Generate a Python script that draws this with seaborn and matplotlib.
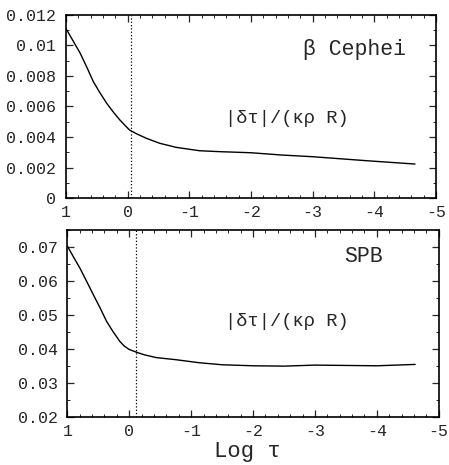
import matplotlib
matplotlib.use("Agg")
import matplotlib.pyplot as plt
import seaborn as sns
import pandas as pd
from matplotlib.ticker import MultipleLocator

# ---- data ----
bc_logtau = [1.0, 0.9, 0.77, 0.66, 0.557, 0.45, 0.34, 0.23, 0.125, 0.04, -0.03, -0.15,
             -0.307, -0.52, -0.79, -1.17, -1.5, -2.0, -2.5, -3.0, -3.87, -4.66]
bc_value = [0.0111, 0.0104, 0.00949, 0.00855, 0.00763, 0.00690, 0.00621, 0.00562,
            0.00511, 0.00475, 0.00446, 0.00420, 0.00391, 0.00359, 0.00332, 0.0031,
            0.00304, 0.00297, 0.00282, 0.00271, 0.00245, 0.00223]

spb_logtau = [1.0, 0.9, 0.796, 0.69, 0.58, 0.47, 0.367, 0.26, 0.153, 0.08, 0.0, -0.115,
              -0.25, -0.44, -0.75, -1.13, -1.5, -2.0, -2.5, -3.0, -3.5, -4.0, -4.62]
spb_value = [0.0703, 0.0671, 0.0638, 0.0600, 0.0560, 0.0521, 0.0482, 0.0451, 0.0423,
             0.0409, 0.0399, 0.0391, 0.0383, 0.0375, 0.0369, 0.0360, 0.0354, 0.0351,
             0.0350, 0.0353, 0.0352, 0.0351, 0.0355]

bc_vline = -0.05
spb_vline = -0.116

x_ticks = [1, 0, -1, -2, -3, -4, -5]
x_labels = ["1", "0", "-1", "-2", "-3", "-4", "-5"]
bc_yticks = [0, 0.002, 0.004, 0.006, 0.008, 0.01, 0.012]
bc_ylabels = ["0", "0.002", "0.004", "0.006", "0.008", "0.01", "0.012"]
spb_yticks = [0.02, 0.03, 0.04, 0.05, 0.06, 0.07]
spb_ylabels = ["0.02", "0.03", "0.04", "0.05", "0.06", "0.07"]

title_bc = "β Cephei"
title_spb = "SPB"
quantity = "|δτ|/(κρ R)"
xlabel = "Log τ"

# ---- style ----
sns.set_style("ticks")
plt.rcParams["font.family"] = ["Liberation Mono", "DejaVu Sans Mono", "DejaVu Sans"]

fig = plt.figure(figsize=(4.49, 4.65), dpi=100)
ax1 = fig.add_axes([0.147, 0.574, 0.824, 0.394])
ax2 = fig.add_axes([0.150, 0.103, 0.827, 0.402])

df_bc = pd.DataFrame({"logtau": bc_logtau, "value": bc_value})
df_spb = pd.DataFrame({"logtau": spb_logtau, "value": spb_value})

sns.lineplot(data=df_bc, x="logtau", y="value", ax=ax1, color="black",
             linewidth=1.0, sort=False, estimator=None)
sns.lineplot(data=df_spb, x="logtau", y="value", ax=ax2, color="black",
             linewidth=1.0, sort=False, estimator=None)

ax1.axvline(bc_vline, color="black", linestyle=":", linewidth=0.9)
ax2.axvline(spb_vline, color="black", linestyle=":", linewidth=0.9)

for ax, yt, yl, ylim in [(ax1, bc_yticks, bc_ylabels, (0, 0.012)),
                         (ax2, spb_yticks, spb_ylabels, (0.02, 0.075))]:
    ax.set_xlim(1, -5)
    ax.set_ylim(*ylim)
    ax.set_xticks(x_ticks)
    ax.set_xticklabels(x_labels, fontsize=12)
    ax.set_yticks(yt)
    ax.set_yticklabels(yl, fontsize=12)
    ax.xaxis.set_minor_locator(MultipleLocator(0.2))
    ax.tick_params(which="major", direction="in", length=5, width=0.9,
                   top=True, right=True)
    ax.tick_params(axis="y", which="major", pad=7)
    ax.tick_params(axis="x", which="major", pad=5)
    ax.tick_params(which="minor", direction="in", length=2.5, width=0.7,
                   top=True, right=True)
    ax.set_xlabel("")
    ax.set_ylabel("")
    for s in ax.spines.values():
        s.set_linewidth(1.2)
        s.set_color("black")

ax2.yaxis.set_minor_locator(MultipleLocator(0.005))
ax1.yaxis.set_minor_locator(MultipleLocator(0.001))

ax1.text(0.78, 0.81, title_bc, transform=ax1.transAxes, ha="center", va="center",
         fontsize=15.5)
ax1.text(0.597, 0.437, quantity, transform=ax1.transAxes, ha="center", va="center",
         fontsize=13.5)
ax2.text(0.797, 0.857, title_spb, transform=ax2.transAxes, ha="center", va="center",
         fontsize=15.5)
ax2.text(0.59, 0.51, quantity, transform=ax2.transAxes, ha="center", va="center",
         fontsize=13.5)

fig.text(0.55, 0.028, xlabel, ha="center", va="center", fontsize=16)

fig.savefig("out.png", dpi=100, facecolor="white")
